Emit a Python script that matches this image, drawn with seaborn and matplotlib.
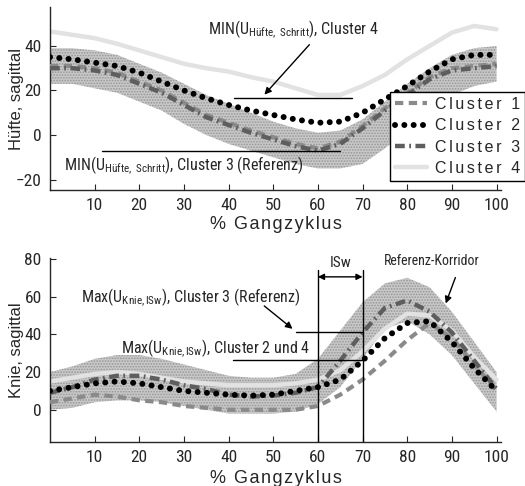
import matplotlib
matplotlib.use("Agg")
import matplotlib.pyplot as plt
import seaborn as sns
import pandas as pd

sns.set_style("ticks")
NARROW = ['Roboto Condensed', 'Liberation Sans', 'DejaVu Sans']
REG = ['Liberation Sans', 'DejaVu Sans']
plt.rcParams['font.family'] = NARROW
plt.rcParams['mathtext.fontset'] = 'custom'
plt.rcParams['mathtext.rm'] = 'Roboto Condensed'
plt.rcParams['mathtext.it'] = 'Roboto Condensed'
plt.rcParams['hatch.linewidth'] = 0.8

# ---------------- data ----------------
gait_pct = [0, 5, 10, 15, 20, 25, 30, 35, 40, 45, 50, 55, 60, 65, 70, 75, 80, 85, 90, 95, 100]
clusters = ["Cluster 1", "Cluster 2", "Cluster 3", "Cluster 4"]

hip_c1 = [31, 31, 30, 28, 24, 20, 14.5, 9, 5.5, 2, -1, -4, -6, -3, 4, 12, 19, 26, 30, 31, 32]
hip_c2 = [35, 34, 32.5, 31, 28, 24, 20, 16.5, 13.5, 11, 9, 7, 5.5, 6, 10, 16, 22, 28.5, 34, 36, 36]
hip_c3 = [30, 30, 29, 27, 23, 19, 13.5, 8, 4.5, 1, -2, -5, -7, -4, 3, 11, 18, 25, 29, 30, 31]
hip_c4 = [46.5, 45, 43.5, 41, 38, 35, 32, 30, 28.5, 26, 24, 21, 18, 18, 22, 27, 34, 40, 46, 49, 47.5]
hip_ref_upper = [39, 39, 38, 36, 32, 28, 23, 18, 14, 10, 6, 3, 1, 2, 7, 15, 23, 30, 36, 39, 40]
hip_ref_lower = [23, 23, 21, 19, 15, 11, 5, 0, -4, -7, -10, -13, -15, -15, -13, -6, 2, 10, 18, 22, 24]

knee_c1 = [4, 6, 8, 7, 5, 4, 2, 1, 0, 0, 0, 0, 2, 8, 16, 26, 37, 46, 38, 24, 10]
knee_c2 = [10, 12, 14, 15, 14, 12, 10, 9, 8, 7.5, 8, 10, 12, 16, 26, 38, 46, 47, 36, 22, 10]
knee_c3 = [9, 12, 16, 18, 18, 16, 13, 11, 8, 7, 7.5, 9, 12, 26, 41, 54, 58, 52, 41, 26, 11]
knee_c4 = [15, 17, 19, 20, 19, 17, 15, 14, 13, 13, 13, 14, 16, 21, 31, 43, 51, 50, 42, 28, 16]
knee_ref_upper = [20, 23, 27, 29, 29, 27, 24, 21, 18, 17, 17, 19, 27, 42, 57, 67, 70, 65, 52, 36, 20]
knee_ref_lower = [0, 1, 4, 5, 5, 4, 2, 0, -2, -2, -2, -1, 3, 12, 27, 43, 47, 40, 29, 14, -1]

x_ticks = [10, 20, 30, 40, 50, 60, 70, 80, 90, 100]
hip_yticks = [-20, 0, 20, 40]
knee_yticks = [0, 20, 40, 60, 80]

styles = {
    "Cluster 1": dict(color="#8a8a8a", lw=3.0, linestyle=(0, (2.0, 1.3)), zorder=3),
    "Cluster 2": dict(color="black", lw=4.3, linestyle=(0, (0.01, 1.55)), zorder=5,
                      dash_capstyle="round"),
    "Cluster 3": dict(color="#5e5e5e", lw=3.2, linestyle=(0, (2.2, 1.0, 0.4, 1.0)), zorder=4),
    "Cluster 4": dict(color="#e2e2e2", lw=3.2, linestyle="-", zorder=2),
}


def spaced(s, sp="\u200a"):
    return sp.join(s)


fig = plt.figure(figsize=(5.25, 4.86), dpi=100)
ax1 = fig.add_axes([50 / 525, 1 - 190 / 486, 451 / 525, 183 / 486])
ax2 = fig.add_axes([50 / 525, 1 - 442 / 486, 451 / 525, 184 / 486])


def draw(ax, series, upper, lower, xlabelpad):
    ax.fill_between(gait_pct, lower, upper, facecolor="#c8c8c8", edgecolor="#969696",
                    hatch="......", linewidth=0, zorder=1)
    for name, vals in zip(clusters, series):
        df = pd.DataFrame({"x": gait_pct, "y": vals})
        sns.lineplot(data=df, x="x", y="y", ax=ax, label=name, **styles[name])
    ax.set_xlim(0, 101)
    ax.set_xticks(x_ticks)
    ax.tick_params(direction="in", length=4, width=0.8, labelsize=12.5, pad=6)
    for lab in ax.get_xticklabels() + ax.get_yticklabels():
        lab.set_family(NARROW)
    sns.despine(ax=ax)
    ax.spines["left"].set_linewidth(1.0)
    ax.spines["bottom"].set_linewidth(1.0)
    ax.set_xlabel(spaced("% Gangzyklus"), fontsize=13, family=REG, labelpad=xlabelpad)


# ---------------- hip ----------------
draw(ax1, [hip_c1, hip_c2, hip_c3, hip_c4], hip_ref_upper, hip_ref_lower, 2)
ax1.set_ylim(-24.7, 57.5)
ax1.set_yticks(hip_yticks)
ax1.set_ylabel("Hüfte, sagittal", fontsize=12, family=REG)
ax1.yaxis.set_label_coords(-0.057, 0.5)
leg = ax1.legend(loc="upper left", bbox_to_anchor=(0.754, 0.535), frameon=True, fancybox=False,
                 edgecolor="black", framealpha=1, fontsize=11.5, handlelength=2.0,
                 handletextpad=0.5, labelspacing=0.4, borderpad=0.3, borderaxespad=0)
leg.get_frame().set_linewidth(1.0)
for t in leg.get_texts():
    t.set_text(spaced(t.get_text(), "\u2006"))
    t.set_family(REG)

ax1.plot([41.3, 67.7], [16.8, 16.8], color="black", lw=1, zorder=6)
ax1.plot([11.6, 65], [-7.2, -7.2], color="black", lw=1, zorder=6)
ax1.annotate("", xy=(47.6, 17.2), xytext=(58.5, 41.5),
             arrowprops=dict(arrowstyle="-|>", color="black", lw=1, mutation_scale=10), zorder=6)
ax1.text(54.5, 47, r"MIN(U$_{\mathrm{Hüfte,\ Schritt}}$), Cluster 4", ha="center", va="center",
         fontsize=11.5, zorder=7)
ax1.text(30, -14, r"MIN(U$_{\mathrm{Hüfte,\ Schritt}}$), Cluster 3 (Referenz)", ha="center",
         va="center", fontsize=11.5, zorder=7)

# ---------------- knee ----------------
draw(ax2, [knee_c1, knee_c2, knee_c3, knee_c4], knee_ref_upper, knee_ref_lower, 3)
ax2.set_ylim(-17.1, 80.5)
ax2.set_yticks(knee_yticks)
ax2.set_ylabel("Knie, sagittal", fontsize=12, family=REG)
ax2.yaxis.set_label_coords(-0.057, 0.5)
ax2.get_legend().remove()

for xv in (60, 70):
    ax2.plot([xv, xv], [-17.1, 74], color="black", lw=1, zorder=6)
ax2.annotate("", xy=(60, 70.5), xytext=(70, 70.5),
             arrowprops=dict(arrowstyle="<|-|>", color="black", lw=1, mutation_scale=9,
                             shrinkA=0, shrinkB=0), zorder=6)
ax2.text(65, 78, "ISw", ha="center", va="center", fontsize=11)
ax2.text(85.6, 79, "Referenz-Korridor", ha="center", va="center", fontsize=10)
ax2.annotate("", xy=(88.4, 55), xytext=(91, 71.5),
             arrowprops=dict(arrowstyle="-|>", color="black", lw=1, mutation_scale=10), zorder=6)

ax2.text(31.5, 59.5, r"Max(U$_{\mathrm{Knie,ISw}}$), Cluster 3 (Referenz)", ha="center",
         va="center", fontsize=11.5, zorder=7)
ax2.annotate("", xy=(54.8, 42), xytext=(47.5, 56),
             arrowprops=dict(arrowstyle="-|>", color="black", lw=1, mutation_scale=10), zorder=6)
ax2.plot([55.2, 70], [41.4, 41.4], color="black", lw=1, zorder=6)

ax2.text(37, 32.5, r"Max(U$_{\mathrm{Knie,ISw}}$), Cluster 2 und 4", ha="center",
         va="center", fontsize=11.5, zorder=7)
ax2.plot([41, 70], [26.5, 26.5], color="black", lw=1, zorder=6)

fig.savefig("out.png", dpi=100)
